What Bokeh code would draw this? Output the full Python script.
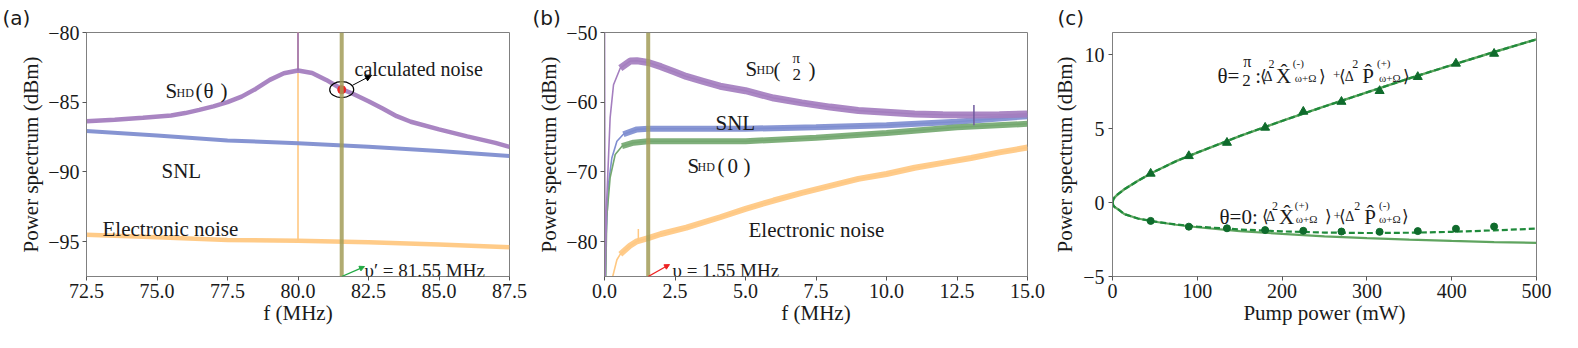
from bokeh.plotting import figure
from bokeh.layouts import row
from bokeh.models import Range1d, FixedTicker, Label, Span, Arrow, NormalHead
from bokeh.embed import file_html
from bokeh.resources import INLINE

# ---------------- Panel (a): spectra around 80 MHz ----------------
a_shd_freq = [72.5, 73.5, 74.5, 75.5, 76.0, 76.5, 77.0, 77.5, 78.0, 78.5, 79.0, 79.5, 80.0,
              80.5, 81.0, 81.55, 82.0, 82.5, 83.0, 83.5, 84.0, 85.0, 86.0, 87.0, 87.5]
a_shd = [-86.36, -86.25, -86.12, -85.95, -85.78, -85.55, -85.3, -85.0, -84.6, -84.05, -83.4,
         -82.92, -82.72, -82.9, -83.4, -84.05, -84.45, -84.93, -85.45, -86.0, -86.4, -86.95,
         -87.45, -87.92, -88.2]
a_freq = [72.5, 75.0, 77.5, 80.0, 82.5, 85.0, 87.5]
a_snl = [-87.07, -87.38, -87.74, -87.95, -88.19, -88.5, -88.86]
a_elec = [-94.5, -94.69, -94.88, -94.93, -95.05, -95.21, -95.4]
a_spike_freq = 80.0
a_spike_elec = [-94.93, -79.0]
a_spike_shd = [-82.72, -79.0]
a_nu = 81.55
a_calc = -84.1
a_xticks = [72.5, 75.0, 77.5, 80.0, 82.5, 85.0, 87.5]
a_xlabels = ["72.5", "75.0", "77.5", "80.0", "82.5", "85.0", "87.5"]
a_yticks = [-95, -90, -85, -80]
a_ylabels = ["\u221295", "\u221290", "\u221285", "\u221280"]

# ---------------- Panel (b): spectra 0-15 MHz ----------------
b_shd_freq = [0.0, 0.02, 0.08, 0.2, 0.32, 0.56, 0.91, 1.15, 1.55, 2.0, 2.45, 2.9, 3.5, 4.1,
              5.0, 6.0, 7.0, 8.0, 9.0, 10.0, 11.0, 12.0, 13.0, 14.0, 15.0]
b_shd_pi2 = [-45.0, -86.0, -74.0, -62.2, -57.5, -55.1, -54.1, -54.05, -54.3, -54.9, -55.6,
             -56.3, -57.0, -57.7, -58.35, -59.4, -60.1, -60.7, -61.2, -61.45, -61.7, -61.8,
             -61.85, -61.8, -61.7]
b_snl_freq = [0.03, 0.06, 0.14, 0.26, 0.44, 0.67, 1.15, 1.55, 2.9, 5.0, 7.5, 10.0, 12.5, 15.0]
b_snl = [-86.0, -78.9, -71.8, -68.0, -65.6, -64.6, -63.9, -63.8, -63.8, -63.8, -63.6, -63.3,
         -62.8, -62.0]
b_sq_freq = [0.04, 0.08, 0.2, 0.38, 0.62, 1.03, 1.55, 2.9, 5.0, 7.5, 10.0, 12.5, 15.0]
b_shd_0 = [-86.0, -76.5, -70.8, -67.5, -66.3, -65.8, -65.6, -65.6, -65.6, -65.1, -64.4, -63.6,
           -63.1]
b_el_freq = [0.26, 0.44, 0.56, 0.9, 1.15, 1.55, 2.0, 2.9, 4.1, 5.0, 6.0, 7.0, 8.0, 9.0, 10.0,
             11.0, 12.0, 13.0, 14.0, 15.0]
b_elec = [-85.5, -82.6, -81.8, -80.6, -79.95, -79.5, -78.9, -78.0, -76.5, -75.3, -74.1, -73.0,
          -72.0, -71.0, -70.3, -69.4, -68.7, -68.0, -67.2, -66.5]
b_spike_el = (1.2, [-80.0, -78.2])
b_spike_shd = (13.1, [-63.3, -60.4])
b_nu = 1.55
b_xticks = [0.0, 2.5, 5.0, 7.5, 10.0, 12.5, 15.0]
b_xlabels = ["0.0", "2.5", "5.0", "7.5", "10.0", "12.5", "15.0"]
b_yticks = [-80, -70, -60, -50]
b_ylabels = ["\u221280", "\u221270", "\u221260", "\u221250"]

# ---------------- Panel (c): noise versus pump power ----------------
c_theory_pow = [0, 1, 2.5, 6.5, 14, 30, 48, 75, 100, 150, 200, 250, 300, 350, 400, 450, 500]
c_anti_theory = [0, 0.22, 0.35, 0.57, 0.9, 1.47, 2.05, 2.8, 3.38, 4.5, 5.52, 6.5, 7.45, 8.4,
                 9.3, 10.18, 11.04]
c_sq_ideal = [0, -0.2, -0.3, -0.45, -0.78, -1.08, -1.28, -1.5, -1.67, -1.93, -2.12, -2.28,
              -2.4, -2.5, -2.59, -2.67, -2.73]
c_sq_loss = [0, -0.2, -0.3, -0.45, -0.78, -1.08, -1.27, -1.48, -1.63, -1.82, -1.95, -2.03,
             -2.06, -2.04, -1.98, -1.88, -1.76]
c_meas_pow = [45, 90, 135, 180, 225, 270, 315, 360, 405, 450]
c_anti_meas = [1.96, 3.15, 4.05, 5.07, 6.15, 6.82, 7.55, 8.5, 9.4, 10.07]
c_sq_meas = [-1.24, -1.63, -1.74, -1.86, -1.91, -1.96, -1.98, -1.93, -1.77, -1.62]
c_xticks = [0, 100, 200, 300, 400, 500]
c_xlabels = ["0", "100", "200", "300", "400", "500"]
c_yticks = [-5, 0, 5, 10]
c_ylabels = ["\u22125", "0", "5", "10"]

# ---------------- styling ----------------
SERIF = "Liberation Serif"
SANS = "DejaVu Sans"
INK = "#1a1a1a"
FRAME = "#808080"
PURPLE = "#a47ebf"
BLUE = "#7f8ed0"
GREENB = "#74a870"
ORANGE = "#ffc882"
OLIVE = "#a29c58"
DKGREEN = "#0f6b2c"
MIDGREEN = "#1f8a3b"
LTGREEN = "#5fa45f"


def make_fig(width, left, right, xr, yr, xt, xl, yt, yl, xlabel, ylabel, ystand,
             tag, tag_offset):
    p = figure(width=width, height=338, x_range=Range1d(*xr), y_range=Range1d(*yr),
               output_backend="svg", toolbar_location=None,
               min_border_left=left, min_border_right=right,
               min_border_top=31, min_border_bottom=62)
    p.title.text = tag
    p.title.align = "left"
    p.title.offset = tag_offset
    p.title.standoff = 6
    p.title.text_font = SANS
    p.title.text_font_size = "20px"
    p.title.text_font_style = "normal"
    p.title.text_color = INK
    p.grid.visible = False
    p.outline_line_color = FRAME
    p.outline_line_width = 1
    p.xaxis.ticker = FixedTicker(ticks=xt)
    p.xaxis.major_label_overrides = dict(zip(xt, xl))
    p.yaxis.ticker = FixedTicker(ticks=yt)
    p.yaxis.major_label_overrides = dict(zip(yt, yl))
    p.xaxis.axis_label = xlabel
    p.yaxis.axis_label = ylabel
    for ax in (p.xaxis[0], p.yaxis[0]):
        ax.major_label_text_font = SERIF
        ax.major_label_text_font_size = "20px"
        ax.major_label_text_color = INK
        ax.axis_label_text_font = SERIF
        ax.axis_label_text_font_size = "21px"
        ax.axis_label_text_font_style = "normal"
        ax.axis_label_text_color = INK
        ax.minor_tick_line_color = None
        ax.major_tick_in = 0
        ax.major_tick_out = 4
        ax.major_tick_line_color = "#555555"
        ax.axis_line_color = FRAME
        ax.major_label_standoff = 3
    p.xaxis[0].axis_label_standoff = 0
    p.yaxis[0].axis_label_standoff = ystand
    return p


def put(p, conv, px, py, s, size, font=SERIF, color=INK):
    x, y = conv(px, py)
    p.add_layout(Label(x=x, y=y, text=s, text_font=font, text_font_size=f"{size}px",
                       text_color=color, text_align="left", text_baseline="alphabetic"))


def conv_a(px, py):
    return (72.5 + (px - 86) * 15 / 423, -80 - (py - 31) / 14)


def conv_b(px, py):
    return ((px - 604) * 15 / 423, -50 - (py - 31) * 35 / 245)


def conv_c(px, py):
    return ((px - 1108) * 500 / 428, -5 + (276 - py) * 16.5 / 245)


# ---------------- figure (a) ----------------
fa = make_fig(530, 86, 21, (72.5, 87.5), (-97.5, -80), a_xticks, a_xlabels, a_yticks,
              a_ylabels, "f (MHz)", "Power spectrum (dBm)", 2, "(a)", -84)
fa.segment(x0=[a_spike_freq], y0=[a_spike_elec[0]], x1=[a_spike_freq], y1=[a_spike_elec[1]],
           line_color=ORANGE, line_width=1.6)
fa.line(a_freq, a_elec, line_color=ORANGE, line_width=4.5, line_alpha=0.95)
fa.line(a_freq, a_snl, line_color=BLUE, line_width=4, line_alpha=0.95)
fa.line(a_shd_freq, a_shd, line_color=PURPLE, line_width=4.5, line_alpha=0.95)
fa.segment(x0=[a_spike_freq], y0=[a_spike_shd[0]], x1=[a_spike_freq], y1=[a_spike_shd[1]],
           line_color="#9a6fb3", line_width=1.6)
fa.add_layout(Span(location=a_nu, dimension="height", line_color=OLIVE, line_width=4,
                   line_alpha=0.85))
fa.scatter([a_nu], [a_calc], size=8, color="#ee2222")
fa.ellipse(x=[a_nu], y=[a_calc], width=24, height=16, width_units="screen",
           height_units="screen", fill_alpha=0, line_color="black", line_width=1.2)
xs, ys = conv_a(352, 84)
xe, ye = conv_a(371, 74)
fa.add_layout(Arrow(end=NormalHead(size=6, fill_color="black", line_color="black"),
                    x_start=xs, y_start=ys, x_end=xe, y_end=ye, line_color="black",
                    line_width=1))
xe, ye = conv_a(364, 266)
fa.add_layout(Arrow(end=NormalHead(size=5, fill_color="#22aa44", line_color="#22aa44"),
                    x_start=a_nu, y_start=-97.5, x_end=xe, y_end=ye, line_color="#22aa44",
                    line_width=1.3))
put(fa, conv_a, 165, 90, "S", 21)
put(fa, conv_a, 176, 92, "HD", 12)
put(fa, conv_a, 195, 90, "(", 21)
put(fa, conv_a, 203, 90, "\u03b8", 21)
put(fa, conv_a, 220, 90, ")", 21)
put(fa, conv_a, 161, 170, "SNL", 21)
put(fa, conv_a, 102, 228, "Electronic noise", 21)
put(fa, conv_a, 354, 68, "calculated noise", 20)
put(fa, conv_a, 364, 270, "\u03c5\u2032 = 81.55 MHz", 19)

# ---------------- figure (b) ----------------
fb = make_fig(520, 74, 23, (0, 15), (-85, -50), b_xticks, b_xlabels, b_yticks, b_ylabels,
              "f (MHz)", "Power spectrum (dBm)", 2, "(b)", -72)


def band(p, xs_, ys_, color, lw, start):
    p.line(xs_, ys_, line_color=color, line_width=1.6)
    idx = [i for i, v in enumerate(xs_) if v >= start]
    p.line([xs_[i] for i in idx], [ys_[i] for i in idx], line_color=color, line_width=lw,
           line_alpha=0.92)


band(fb, b_el_freq, b_elec, ORANGE, 6, 0.5)
fb.segment(x0=[b_spike_el[0]], y0=[b_spike_el[1][0]], x1=[b_spike_el[0]],
           y1=[b_spike_el[1][1]], line_color=ORANGE, line_width=1.5)
band(fb, b_snl_freq, b_snl, BLUE, 6, 0.6)
band(fb, b_sq_freq, b_shd_0, GREENB, 6, 0.6)
band(fb, b_shd_freq, b_shd_pi2, PURPLE, 7, 0.5)
fb.segment(x0=[b_spike_shd[0]], y0=[b_spike_shd[1][0]], x1=[b_spike_shd[0]],
           y1=[b_spike_shd[1][1]], line_color="#6f5a9e", line_width=1.5)
fb.add_layout(Span(location=b_nu, dimension="height", line_color=OLIVE, line_width=4,
                   line_alpha=0.85))
xe, ye = conv_b(669, 264)
fb.add_layout(Arrow(end=NormalHead(size=5, fill_color="#ee2222", line_color="#ee2222"),
                    x_start=b_nu, y_start=-85, x_end=xe, y_end=ye, line_color="#ee2222",
                    line_width=1.3))
put(fb, conv_b, 745, 68, "S", 21)
put(fb, conv_b, 756, 69, "HD", 12)
put(fb, conv_b, 773, 69, "(", 21)
put(fb, conv_b, 792, 57, "\u03c0", 15)
put(fb, conv_b, 792, 73, "2", 17)
put(fb, conv_b, 808, 69, ")", 21)
put(fb, conv_b, 715, 122, "SNL", 21)
put(fb, conv_b, 687, 165, "S", 21)
put(fb, conv_b, 697, 166, "HD", 12)
put(fb, conv_b, 717, 165, "(", 21)
put(fb, conv_b, 727, 165, "0", 21)
put(fb, conv_b, 743, 165, ")", 21)
put(fb, conv_b, 748, 229, "Electronic noise", 21)
put(fb, conv_b, 672, 270, "\u03c5 = 1.55 MHz", 19)

# ---------------- figure (c) ----------------
fc = make_fig(520, 58, 34, (0, 500), (-5, 11.5), c_xticks, c_xlabels, c_yticks, c_ylabels,
              "Pump power (mW)", "Power spectrum (dBm)", 3, "(c)", -55)
fc.yaxis[0].major_label_standoff = 4
fc.line(c_theory_pow, c_anti_theory, line_color=LTGREEN, line_width=2.4)
fc.line(c_theory_pow, c_sq_ideal, line_color=LTGREEN, line_width=2.2)
fc.line(c_theory_pow, c_anti_theory, line_color=MIDGREEN, line_width=2.2, line_dash="6 3")
fc.line(c_theory_pow, c_sq_loss, line_color=MIDGREEN, line_width=2.2, line_dash="6 3")
fc.scatter(c_meas_pow, c_anti_meas, marker="triangle", size=9, color=DKGREEN)
fc.scatter(c_meas_pow, c_sq_meas, marker="circle", size=7, color=DKGREEN)

XH = "X\u0302"
PH = "P\u0302"
upper = [
    (1214, 75, "\u03b8=", 21), (1240, 60, "\u03c0", 16), (1239, 79, "2", 17),
    (1252, 75, ":", 21), (1257, 75, "\u27e8", 17), (1260.5, 75, "\u0394", 14),
    (1265.5, 63, "2", 12), (1273, 75, XH, 21), (1290, 62, "(-)", 11),
    (1292, 77, "\u03c9+\u03a9", 11), (1316, 75, "\u27e9", 17), (1330.5, 74, "+", 13),
    (1337, 75, "\u27e8", 17), (1342.5, 75, "\u0394", 14), (1350, 63, "2", 12),
    (1360, 75, PH, 21), (1375, 62, "(+)", 11), (1377, 77, "\u03c9+\u03a9", 11),
    (1401, 75, "\u27e9", 17),
]
lower = [
    (1216, 216, "\u03b8=0:", 21), (1258.5, 216, "\u27e8", 17), (1263, 216, "\u0394", 14),
    (1269, 205, "2", 12), (1276, 216, XH, 21), (1292, 204, "(+)", 11),
    (1293, 218, "\u03c9+\u03a9", 11), (1322, 216, "\u27e9", 17), (1331, 215, "+", 13),
    (1337, 216, "\u27e8", 17), (1343, 216, "\u0394", 14), (1352, 205, "2", 12),
    (1362, 216, PH, 21), (1377, 204, "(-)", 11), (1377, 218, "\u03c9+\u03a9", 11),
    (1400, 216, "\u27e9", 17),
]
for px, py, s, sz in upper + lower:
    put(fc, conv_c, px, py, s, sz)

layout = row(fa, fb, fc)
open("out.html", "w").write(file_html(layout, INLINE))
